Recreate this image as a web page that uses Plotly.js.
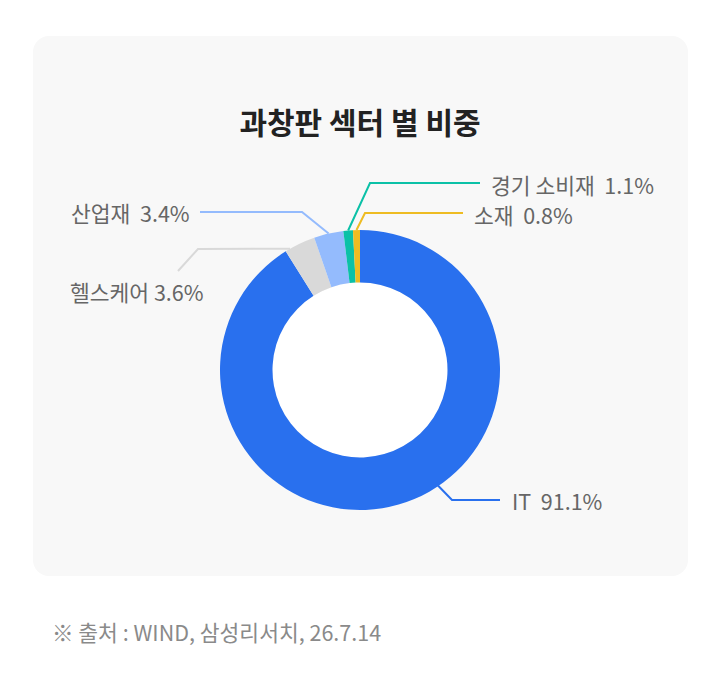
<!DOCTYPE html>
<html>
<head>
<meta charset="utf-8">
<script src="https://cdn.plot.ly/plotly-3.0.1.min.js"></script>
<style>
  html, body { margin:0; padding:0; background:#ffffff; }
  #wrap { position:relative; width:720px; height:684px; }
  #card { position:absolute; left:33px; top:36px; width:655px; height:540px; background:#f8f8f8; border-radius:16px; }
  #chart { position:absolute; left:0; top:0; width:720px; height:684px; }
</style>
</head>
<body>
<div id="wrap">
  <div id="card"></div>
  <div id="chart"></div>
</div>
<script>
// ---- data ----
const categories = ['IT', '헬스케어', '산업재', '경기 소비재', '소재'];
const shares = [91.1, 3.6, 3.4, 1.1, 0.8];
const colors = ['#2970EE', '#D9D9D9', '#94BBFD', '#0BC1A7', '#EEBC22'];
const titleText = '과창판 섹터 별 비중';
const sourceText = '※ 출처 : WIND, 삼성리서치, 26.7.14';

// ---- layout helpers (pixel -> paper) ----
const W = 720, H = 684;
const CX = 360, CY = 370, R = 140, HOLE = 0.625;
const px = x => x / W;
const py = y => 1 - y / H;

// cumulative mid fractions (clockwise from 12 o'clock)
const total = shares.reduce((a, b) => a + b, 0);
let cum = 0;
const midFrac = shares.map(v => { const m = (cum + v / 2) / total; cum += v; return m; });

function edge(frac, r) {
  const t = frac * 2 * Math.PI;
  return [CX + r * Math.sin(t), CY - r * Math.cos(t)];
}

// leader layout: start fraction (override), elbow, end, label position
const leaders = [
  { i: 0, startFrac: 146 / 360, r: 139, elbow: [452, 500], end: [500, 500], tx: 510, ty: 500, anchor: 'left', sep: '\u00a0\u00a0' },
  { i: 1, startFrac: 330 / 360, r: 140, elbow: [198, 249], end: [178, 271], tx: 206, ty: 292, anchor: 'right', sep: '\u00a0' },
  { i: 2, startFrac: null, r: 140, elbow: [302, 212], end: [200, 212], tx: 192, ty: 213, anchor: 'right', sep: '\u00a0\u00a0' },
  { i: 3, startFrac: null, r: 140, elbow: [370, 183], end: [480, 183], tx: 489, ty: 184, anchor: 'left', sep: '\u00a0\u00a0' },
  { i: 4, startFrac: null, r: 140, elbow: [365, 213], end: [463, 213], tx: 472, ty: 214, anchor: 'left', sep: '\u00a0\u00a0' }
];

const shapes = [];
const annotations = [];

// white hole
shapes.push({
  type: 'circle', xref: 'paper', yref: 'paper', layer: 'below',
  x0: px(CX - R * HOLE), x1: px(CX + R * HOLE), y0: py(CY + R * HOLE), y1: py(CY - R * HOLE),
  fillcolor: '#ffffff', line: { width: 0 }
});

leaders.forEach(L => {
  const f = L.startFrac !== null ? L.startFrac : midFrac[L.i];
  const s = edge(f, L.r);
  const path = `M ${px(s[0])} ${py(s[1])} L ${px(L.elbow[0])} ${py(L.elbow[1])} L ${px(L.end[0])} ${py(L.end[1])}`;
  shapes.push({
    type: 'path', xref: 'paper', yref: 'paper', path: path,
    line: { color: colors[L.i], width: 2 }
  });
  annotations.push({
    xref: 'paper', yref: 'paper', x: px(L.tx), y: py(L.ty),
    xanchor: L.anchor, yanchor: 'middle', showarrow: false,
    text: categories[L.i] + L.sep + shares[L.i].toFixed(1) + '%',
    font: { family: '"Noto Sans CJK KR", "Noto Sans", sans-serif', size: 21.5, color: '#666666' }
  });
});

annotations.push({
  xref: 'paper', yref: 'paper', x: px(50), y: py(631),
  xanchor: 'left', yanchor: 'middle', showarrow: false,
  text: sourceText,
  font: { family: '"Noto Sans CJK KR", "Noto Sans", sans-serif', size: 21.5, color: '#8a8a8a' }
});

const trace = {
  type: 'pie',
  labels: categories,
  values: shares,
  hole: HOLE,
  sort: false,
  direction: 'clockwise',
  rotation: 0,
  marker: { colors: colors, line: { width: 0 } },
  textinfo: 'none',
  hoverinfo: 'label+percent',
  showlegend: false,
  domain: { x: [px(CX - R), px(CX + R)], y: [py(CY + R), py(CY - R)] }
};

const layout = {
  width: W, height: H,
  margin: { l: 0, r: 0, t: 0, b: 0 },
  paper_bgcolor: 'rgba(0,0,0,0)',
  plot_bgcolor: 'rgba(0,0,0,0)',
  showlegend: false,
  title: {
    text: '<b>' + titleText + '</b>',
    x: 0.5, xanchor: 'center', xref: 'paper',
    y: py(123), yanchor: 'middle', yref: 'paper',
    font: { family: '"Noto Sans CJK KR", sans-serif', size: 30, color: '#222222' }
  },
  shapes: shapes,
  annotations: annotations
};

Plotly.newPlot('chart', [trace], layout, { displayModeBar: false, staticPlot: true });
</script>
</body>
</html>
